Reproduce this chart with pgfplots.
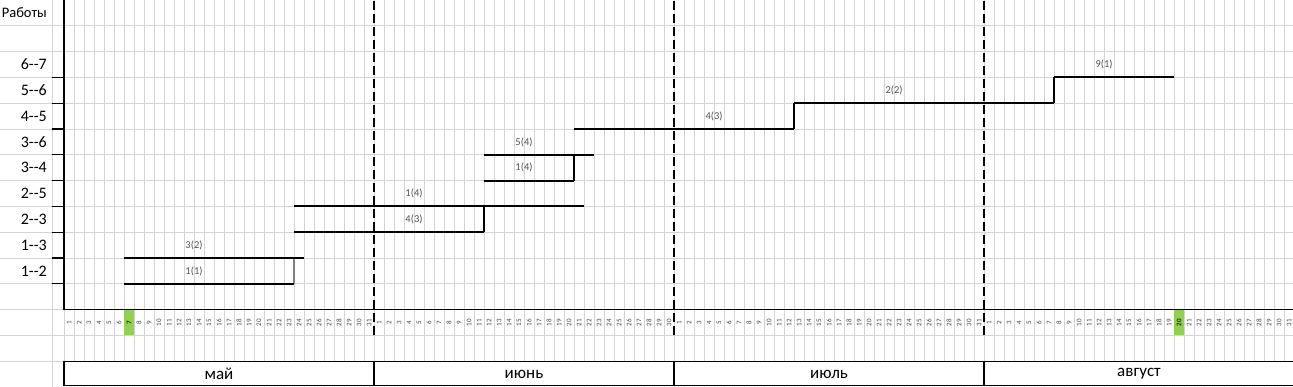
\documentclass[border=0pt]{standalone}
\usepackage{pgfplots}
\pgfplotsset{compat=1.18}
\usepackage{fontspec}
\setmainfont{Carlito}
\definecolor{gridc}{RGB}{212,212,212}
\definecolor{greenc}{RGB}{146,208,80}
\definecolor{lblc}{RGB}{80,80,80}
\begin{document}
\begin{tikzpicture}
\useasboundingbox (0,0) rectangle (1293pt,387pt);
\begin{axis}[
  at={(0,0)}, anchor=south west,
  width=1293pt, height=387pt, scale only axis,
  xmin=-6.4, xmax=122.9, ymin=0, ymax=15,
  axis line style={draw=none},
  major tick length=0pt, minor tick length=0pt,
  xtick={0.5,1.5,...,122.5},
  minor xtick={-1.2,0,1,...,123},
  ytick={4.5,5.5,6.5,7.5,8.5,9.5,10.5,11.5,12.5,14.5},
  minor ytick={1,2,...,14},
  xmajorgrids=false, ymajorgrids=false,
  xminorgrids=true, yminorgrids=true,
  minor grid style={gridc, line width=0.8pt},
  yticklabels={1-{}-2,1-{}-3,2-{}-3,2-{}-5,3-{}-4,3-{}-6,4-{}-5,5-{}-6,6-{}-7,{\fontsize{14.5}{14.5}\selectfont Работы}},
  yticklabel style={anchor=east, inner sep=0pt, xshift=47pt, font=\fontsize{16}{16}\selectfont, text=black},
  xticklabels={1,2,3,4,5,6,{},8,9,10,11,12,13,14,15,16,17,18,19,20,21,22,23,24,25,26,27,28,29,30,31,
    1,2,3,4,5,6,7,8,9,10,11,12,13,14,15,16,17,18,19,20,21,22,23,24,25,26,27,28,29,30,
    1,2,3,4,5,6,7,8,9,10,11,12,13,14,15,16,17,18,19,20,21,22,23,24,25,26,27,28,29,30,31,
    1,2,3,4,5,6,7,8,9,10,11,12,13,14,15,16,17,18,19,{},21,22,23,24,25,26,27,28,29,30,31},
  xticklabel style={yshift=64.5pt, rotate=90, anchor=center, inner sep=0pt, font=\fontsize{7}{7}\selectfont, text=black!75},
]
% highlighted day cells
\addplot[fill=greenc, draw=none] coordinates {(6,2) (7,2) (7,2.97) (6,2.97)} -- cycle;
\addplot[fill=greenc, draw=none] coordinates {(111,2) (112,2) (112,2.97) (111,2.97)} -- cycle;
% their day numbers
\addplot[only marks, mark=*, mark size=0pt, nodes near coords, point meta=explicit symbolic,
  nodes near coords style={anchor=center, inner sep=0pt, rotate=90, font=\fontsize{7}{7}\selectfont\bfseries, text=black!85}]
  table[meta=label] {
x y label
6.5 2.5 7
111.5 2.5 20
};

% month box
\draw[black, line width=1.2pt, fill=white] (axis cs:0,0.05) rectangle (axis cs:124,1);
\draw[black, line width=1.2pt] (axis cs:31,0.05) -- (axis cs:31,1);
\draw[black, line width=1.2pt] (axis cs:61,0.05) -- (axis cs:61,1);
\draw[black, line width=1.2pt] (axis cs:92,0.05) -- (axis cs:92,1);
\node[font=\fontsize{17}{17}\selectfont] at (axis cs:15.5,0.5) {май};
\node[font=\fontsize{17}{17}\selectfont] at (axis cs:46,0.5) {июнь};
\node[font=\fontsize{17}{17}\selectfont] at (axis cs:76.5,0.5) {июль};
\node[font=\fontsize{17}{17}\selectfont] at (axis cs:107.5,0.5) {август};

% axis lines and ticks
\draw[black, line width=1.5pt] (axis cs:0,15) -- (axis cs:0,3) -- (axis cs:124,3);
\pgfplotsinvokeforeach{4,...,12}{\draw[black, line width=1.3pt] (axis cs:-1.2,#1) -- (axis cs:0,#1);}

% month boundaries
\addplot[black, line width=2.3pt, dash pattern=on 9pt off 4pt] coordinates {(31,2) (31,15)};
\addplot[black, line width=2.3pt, dash pattern=on 9pt off 4pt] coordinates {(61,2) (61,15)};
\addplot[black, line width=2.3pt, dash pattern=on 9pt off 4pt] coordinates {(92,2) (92,15)};

% connectors
\addplot[gray, line width=1.3pt] coordinates {(23,4) (23,5)};
\addplot[black, line width=1.3pt] coordinates {(42,6) (42,7)};
\addplot[black, line width=1.3pt] coordinates {(51,8) (51,9)};
\addplot[black, line width=1.3pt] coordinates {(73,10) (73,11)};
\addplot[black, line width=1.3pt] coordinates {(99,11) (99,12)};

% tasks
\addplot[black, line width=2pt] coordinates {(6,4) (23,4)};
\addplot[black, line width=2pt] coordinates {(6,5) (24,5)};
\addplot[black, line width=2pt] coordinates {(23,6) (42,6)};
\addplot[black, line width=2pt] coordinates {(23,7) (52,7)};
\addplot[black, line width=2pt] coordinates {(42,8) (51,8)};
\addplot[black, line width=2pt] coordinates {(42,9) (53,9)};
\addplot[black, line width=2pt] coordinates {(51,10) (73,10)};
\addplot[black, line width=2pt] coordinates {(73,11) (99,11)};
\addplot[black, line width=2pt] coordinates {(99,12) (111,12)};

% task labels
\addplot[only marks, mark=*, mark size=0pt, nodes near coords, point meta=explicit symbolic,
  nodes near coords style={anchor=center, inner sep=0pt, font=\fontsize{10.5}{10.5}\selectfont, text=lblc}]
  table[meta=label] {
x y label
13 4.5 1(1)
13 5.5 3(2)
35 6.5 4(3)
35 7.5 1(4)
46 8.5 1(4)
46 9.5 5(4)
65 10.5 4(3)
83 11.5 2(2)
104 12.5 9(1)
};
\end{axis}
\end{tikzpicture}
\end{document}
